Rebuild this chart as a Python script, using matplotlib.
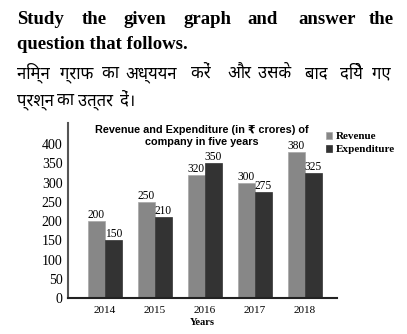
import matplotlib
matplotlib.use("Agg")
import matplotlib.pyplot as plt
import numpy as np

years = ["2014", "2015", "2016", "2017", "2018"]
revenue = [200, 250, 320, 300, 380]
expenditure = [150, 210, 350, 275, 325]
yticks = [0, 50, 100, 150, 200, 250, 300, 350, 400]

W, H = 407, 334
fig = plt.figure(figsize=(W / 100, H / 100), dpi=100)
fig.patch.set_facecolor("white")

def fx(px):
    return px / W

def fy(py):
    return 1 - py / H

serif = ["Liberation Serif", "DejaVu Serif"]
sans = ["Liberation Sans", "DejaVu Sans"]
hindi = ["Noto Sans Devanagari", "Lohit Devanagari", "FreeSans", "Noto Sans", "DejaVu Sans"]

# Header text (justified by word placement)
line1 = [("Study", 17), ("the", 82), ("given", 123), ("graph", 183), ("and", 247), ("answer", 298), ("the", 369)]
for w, x in line1:
    fig.text(fx(x), fy(24), w, family=serif, weight="bold", fontsize=13.5, va="baseline", ha="left")
fig.text(fx(17), fy(49), "question that follows.", family=serif, weight="bold", fontsize=13.5, va="baseline", ha="left")

line3 = [("निम्न", 17), ("ग्राफ", 60), ("का", 102), ("अध्ययन", 125), ("करें", 191), ("और", 227), ("उसके", 258), ("बाद", 305), ("दिये", 340), ("गए", 372)]
for w, x in line3:
    fig.text(fx(x), fy(78), w, family=hindi, fontsize=12, va="baseline", ha="left")
line4 = [("प्रश्न", 17), ("का", 57), ("उत्तर", 78), ("दें।", 120)]
for w, x in line4:
    fig.text(fx(x), fy(105), w, family=hindi, fontsize=12, va="baseline", ha="left")

# Chart
ax = fig.add_axes([fx(68), fy(298), fx(337) - fx(68), (298 - 123) / H])
x = np.arange(len(years))
bw = 0.34
b1 = ax.bar(x - bw / 2, revenue, bw, color="#878787", edgecolor="#a8a8a8", linewidth=0.5, label="Revenue")
b2 = ax.bar(x + bw / 2, expenditure, bw, color="#333333", edgecolor="#333333", linewidth=0.5, label="Expenditure")
for bars, vals in ((b1, revenue), (b2, expenditure)):
    for b, v in zip(bars, vals):
        ax.text(b.get_x() + b.get_width() / 2, v, str(v), ha="center", va="bottom",
                family=serif, fontsize=8.3)

ax.set_xlim(-0.74, 4.64)
ax.set_ylim(0, 455)
ax.set_yticks(yticks)
ax.set_yticklabels([str(t) for t in yticks], family=serif, fontsize=10)
ax.set_xticks(x)
ax.set_xticklabels(years, family=serif, fontsize=8)
ax.tick_params(axis="both", length=0, pad=4)
ax.tick_params(axis="x", pad=6)
for s in ("top", "right"):
    ax.spines[s].set_visible(False)
ax.spines["left"].set_color("#555555")
ax.spines["left"].set_linewidth(1.5)
ax.spines["bottom"].set_color("#222222")
ax.spines["bottom"].set_linewidth(1.5)
ax.set_xlabel("Years", family=serif, weight="bold", fontsize=7.5, labelpad=2)

fig.text(fx(202), fy(133), "Revenue and Expenditure (in ₹ crores) of", family=sans, weight="bold",
         fontsize=7.8, ha="center", va="baseline")
fig.text(fx(202), fy(145), "company in five years", family=sans, weight="bold",
         fontsize=7.8, ha="center", va="baseline")

leg = ax.legend(loc="upper left", bbox_to_anchor=(fx(326), fy(132)), bbox_transform=fig.transFigure,
                frameon=False, prop={"family": serif, "weight": "bold", "size": 8},
                handlelength=0.55, handleheight=0.55, handletextpad=0.35, labelspacing=0.35,
                borderaxespad=0, borderpad=0)

fig.savefig("out.png", dpi=100)
